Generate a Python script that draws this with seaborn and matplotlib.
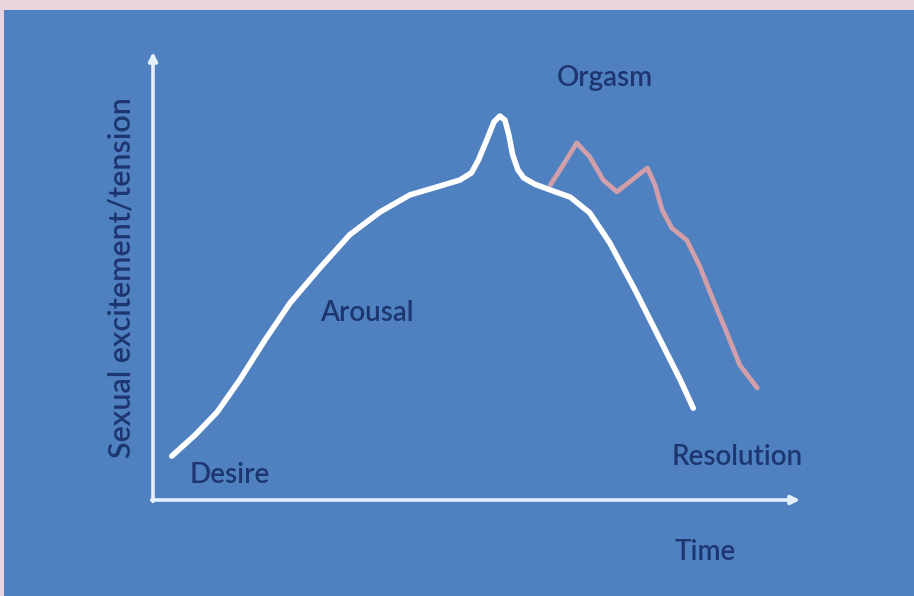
import matplotlib
matplotlib.use("Agg")
import matplotlib.pyplot as plt
import seaborn as sns
import pandas as pd

# ---- data (time vs. excitement, arbitrary units 0-100) ----
white_time = [2.9, 6.5, 9.9, 13.4, 17.3, 21.2, 25.8, 30.4, 35.1, 39.7, 44.4, 47.4,
              49.2, 50.3, 51.6, 52.7, 53.6, 54.4, 55.0, 55.6, 56.4, 57.3, 59.0, 61.4,
              64.5, 67.5, 70.6, 74.5, 78.4, 81.5, 83.5]
white_excite = [9.8, 14.5, 19.6, 26.8, 35.7, 44.0, 51.8, 59.2, 64.3, 68.1, 70.1, 71.4,
                73.0, 75.9, 80.4, 84.4, 85.7, 84.8, 81.5, 77.0, 73.7, 71.9, 70.5, 69.2,
                67.6, 64.1, 57.4, 46.9, 35.7, 26.8, 20.5]
pink_time = [61.4, 63.4, 65.5, 67.5, 69.6, 71.7, 74.0, 76.4, 77.6, 78.7, 80.2, 82.5,
             84.5, 86.6, 88.7, 90.7, 93.4]
pink_excite = [70.3, 74.8, 79.7, 76.6, 71.4, 68.8, 71.4, 74.1, 70.3, 64.7, 60.7, 58.0,
               52.2, 44.6, 37.3, 30.1, 25.0]
phase_labels = ["Desire", "Arousal", "Orgasm", "Resolution"]
y_label = "Sexual excitement/tension"
x_label = "Time"

W, H = 914, 596
sns.set_style("white")
plt.rcParams['font.family'] = ['Lato', 'DejaVu Sans']

fig = plt.figure(figsize=(W / 100, H / 100), dpi=100)
fig.patch.set_facecolor("#e9d5dd")
# blue panel (background axes)
bg = fig.add_axes([4 / W, 0, 1 - 4 / W, 1 - 10 / H])
bg.set_facecolor("#4f81c1")
bg.set_xticks([])
bg.set_yticks([])
for s in bg.spines.values():
    s.set_visible(False)
bg.set_zorder(0)

x0, x1 = 153, 800
y0, y1 = 500, 52
ax = fig.add_axes([x0 / W, (H - y0) / H, (x1 - x0) / W, (y0 - y1) / H])
ax.set_zorder(2)
ax.set_facecolor("none")
ax.patch.set_alpha(0)
ax.set_xlim(0, 100)
ax.set_ylim(0, 100)
for s in ax.spines.values():
    s.set_visible(False)
ax.set_xticks([])
ax.set_yticks([])

axis_col = "#e4f1fb"
ax.annotate("", xy=(0, 1.0), xytext=(0, -0.003), xycoords="axes fraction",
            arrowprops=dict(arrowstyle="-|>,head_length=0.5,head_width=0.25",
                            color=axis_col, lw=2.6, shrinkA=0, shrinkB=0))
ax.annotate("", xy=(1.0, 0), xytext=(-0.002, 0), xycoords="axes fraction",
            arrowprops=dict(arrowstyle="-|>,head_length=0.5,head_width=0.25",
                            color=axis_col, lw=2.6, shrinkA=0, shrinkB=0))

pink_df = pd.DataFrame({"time": pink_time, "excite": pink_excite})
white_df = pd.DataFrame({"time": white_time, "excite": white_excite})
sns.lineplot(data=pink_df, x="time", y="excite", sort=False, ax=ax, color="#d9a0a8",
             lw=3.4, solid_capstyle="round", solid_joinstyle="round", clip_on=False, alpha=0.95)
sns.lineplot(data=white_df, x="time", y="excite", sort=False, ax=ax, color="white",
             lw=4.0, solid_capstyle="round", solid_joinstyle="round", clip_on=False)
ax.set_xlabel("")
ax.set_ylabel("")

txt_col = "#1d3670"
def px(xp, yp):
    return (xp / W, 1 - yp / H)

kw = dict(color=txt_col, fontsize=20, ha="center", va="center", fontweight="semibold", zorder=5)
fig.text(*px(230, 475), phase_labels[0], **kw)
fig.text(*px(367, 313), phase_labels[1], **kw)
fig.text(*px(605, 78), phase_labels[2], **kw)
fig.text(*px(737, 457), phase_labels[3], **kw)
fig.text(*px(705, 552), x_label, **kw)
kw_y = dict(kw, fontsize=22)
fig.text(*px(121, 278), y_label, rotation=90, **kw_y)

fig.savefig("out.png", dpi=100, facecolor=fig.get_facecolor())
